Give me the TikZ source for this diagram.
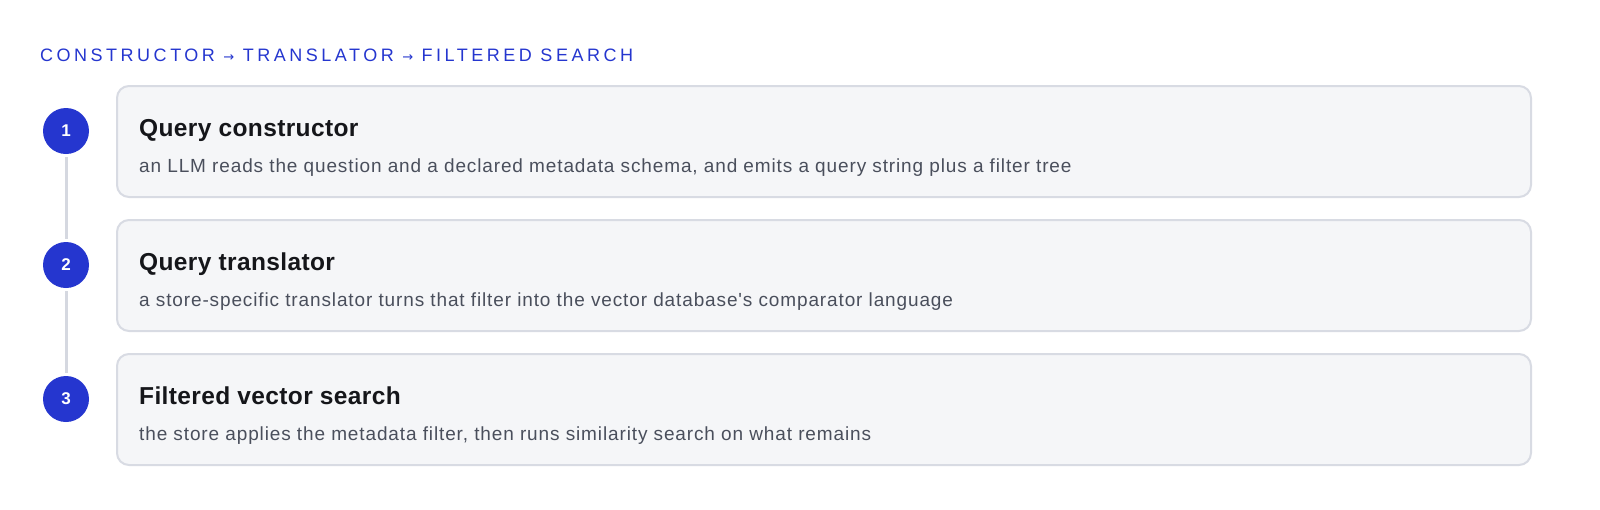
\documentclass[tikz,border=0pt]{standalone}
\usepackage{fontspec}
\setmainfont{Liberation Sans}[Ligatures=TeXOff]
\newfontfamily\arrowfont{DejaVu Sans}
\newfontfamily\headfont{Liberation Sans}[LetterSpace=19.5]
\newfontfamily\titlefont{Liberation Sans}[LetterSpace=1.5]
\newfontfamily\descfont{Liberation Sans}[LetterSpace=4.6,Ligatures=TeXOff]
\usetikzlibrary{calc}
\usetikzlibrary{positioning}
\definecolor{stepblue}{HTML}{2536CF}
\definecolor{cardfill}{HTML}{F5F6F8}
\definecolor{cardline}{HTML}{D8DBE3}
\definecolor{railgray}{HTML}{D5D8E0}
\definecolor{titleink}{HTML}{15161A}
\definecolor{descink}{HTML}{4A4F5C}

\begin{document}
\begin{tikzpicture}[x=1pt,y=-1pt]
\tikzstyle{card}=[draw=cardline,fill=cardfill,line width=2pt,rounded corners=12pt,minimum width=1414pt,minimum height=111pt,inner sep=0pt]
\tikzstyle{badge}=[circle,fill=stepblue,minimum size=46pt,inner sep=0pt,outer sep=3pt,text=white,font=\fontsize{17}{17}\selectfont\bfseries]
\tikzstyle{cardtitle}=[anchor=base west,inner sep=0pt,text=titleink,font=\fontsize{24.5}{24.5}\titlefont\bfseries]
\tikzstyle{carddesc}=[anchor=base west,inner sep=0pt,text=descink,font=\fontsize{19}{19}\descfont]
\useasboundingbox [fill=white] (0,0) rectangle (1600,509);
\node [anchor=base west,inner sep=0pt,text=stepblue,font=\fontsize{18}{18}\headfont] (header) at (40,61) {CONSTRUCTOR {\arrowfont\fontsize{13}{13}\selectfont →} TRANSLATOR {\arrowfont\fontsize{13}{13}\selectfont →} FILTERED SEARCH};
\node [card, anchor=north west] (card1) at (116,85) {};
\node [card, below=21pt of card1] (card2) {};
\node [card, below=21pt of card2] (card3) {};
\node [cardtitle] (title1) at ($(card1.north west)+(23,51)$) {Query constructor};
\node [carddesc] (desc1) at ($(card1.north west)+(23,87)$) {an LLM reads the question and a declared metadata schema, and emits a query string plus a filter tree};
\node [cardtitle] (title2) at ($(card2.north west)+(23,51)$) {Query translator};
\node [carddesc] (desc2) at ($(card2.north west)+(23,87)$) {a store-specific translator turns that filter into the vector database's comparator language};
\node [cardtitle] (title3) at ($(card3.north west)+(23,51)$) {Filtered vector search};
\node [carddesc] (desc3) at ($(card3.north west)+(23,87)$) {the store applies the metadata filter, then runs similarity search on what remains};
\node [badge] (step1) at ($(card1.north west)+(-50,46)$) {1};
\node [badge] (step2) at ($(card2.north west)+(-50,46)$) {2};
\node [badge] (step3) at ($(card3.north west)+(-50,46)$) {3};
\draw [railgray, line width=3pt] (step1.south) -- (step2.north);
\draw [railgray, line width=3pt] (step2.south) -- (step3.north);
\end{tikzpicture}
\end{document}
